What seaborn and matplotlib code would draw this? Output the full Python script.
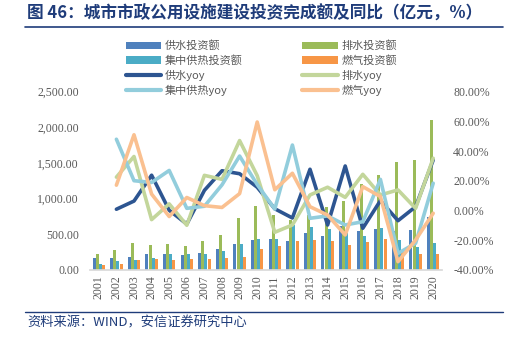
import numpy as np
import pandas as pd
import matplotlib
matplotlib.use("Agg")
import matplotlib.pyplot as plt
import seaborn as sns
from matplotlib.patches import Patch
from matplotlib.lines import Line2D
from matplotlib.ticker import FuncFormatter, FixedLocator

years = [str(y) for y in range(2001, 2021)]

# investment (亿元)
water = [169.4, 170.9, 181.8, 225.1, 225.6, 205.1, 233.0, 295.4, 368.8, 426.8,
         431.8, 410.4, 524.5, 475.0, 617.0, 545.8, 580.1, 543.0, 560.1, 749.4]
drain = [224.5, 275.0, 375.2, 352.3, 368.0, 331.5, 410.0, 496.0, 729.8, 901.6,
         770.1, 695.0, 768.0, 889.0, 970.0, 1206.0, 1333.0, 1518.0, 1545.0, 2100.0]
heat = [82.0, 121.4, 145.8, 173.4, 220.2, 223.6, 230.0, 269.7, 368.7, 433.2,
        437.6, 630.0, 598.0, 576.0, 522.0, 482.0, 582.0, 414.0, 323.0, 380.0]
gas = [75.5, 88.4, 133.5, 148.3, 142.4, 155.0, 160.1, 163.5, 182.2, 290.8,
       331.4, 413.0, 424.0, 411.0, 344.0, 398.0, 435.0, 287.0, 230.0, 226.0]

# yoy (%)
water_yoy = [np.nan, 0.9, 6.4, 23.8, 0.2, -9.1, 13.6, 26.8, 24.8, 15.7, 1.2,
             -5.0, 27.8, -9.7, 30.0, -11.9, 6.7, -6.8, 2.6, 34.0]
drain_yoy = [np.nan, 22.5, 36.4, -6.1, 4.5, -9.9, 23.7, 21.0, 47.1, 23.5, -14.6,
             -9.7, 10.5, 15.7, 8.9, 24.4, 10.5, 13.9, 1.5, 35.2]
heat_yoy = [np.nan, 48.0, 20.1, 18.9, 27.0, 1.5, 2.9, 17.3, 36.7, 17.5, 1.0,
            44.1, -5.2, -3.6, -9.7, -7.5, 21.0, -28.8, -22.0, 18.4]
gas_yoy = [np.nan, 17.1, 51.0, 11.1, -4.0, 8.8, 3.3, 2.1, 11.4, 59.6, 14.0,
           25.1, 2.6, -3.0, -16.4, 16.1, 9.4, -34.4, -19.8, -1.8]

bar_names = ["供水投资额", "排水投资额", "集中供热投资额", "燃气投资额"]
bar_colors = ["#4F81BD", "#9BBB59", "#4BACC6", "#F79646"]
line_names = ["供水yoy", "排水yoy", "集中供热yoy", "燃气yoy"]
line_colors = ["#2D5591", "#C3D69B", "#92CDDC", "#FAC090"]

title = "图 46：城市市政公用设施建设投资完成额及同比（亿元，%）"
source = "资料来源：WIND，安信证券研究中心"

sns.set_theme(style="white")
plt.rcParams['font.family'] = ['Noto Sans CJK SC', 'DejaVu Sans']

W, H = 508, 338
fig = plt.figure(figsize=(W / 100, H / 100), dpi=100)
ax = fig.add_axes([90 / W, 1 - 270 / H, 352 / W, 178.3 / H])

df_bar = pd.DataFrame({"year": years, bar_names[0]: water, bar_names[1]: drain,
                       bar_names[2]: heat, bar_names[3]: gas})
df_bar = df_bar.melt(id_vars="year", var_name="series", value_name="value")
sns.barplot(data=df_bar, x="year", y="value", hue="series", hue_order=bar_names,
            palette=bar_colors, width=0.7, gap=0.02, saturation=1,
            errorbar=None, legend=False, linewidth=0, ax=ax)

ax2 = ax.twinx()
df_line = pd.DataFrame({"pos": np.arange(len(years)), line_names[0]: water_yoy,
                        line_names[1]: drain_yoy, line_names[2]: heat_yoy,
                        line_names[3]: gas_yoy})
df_line = df_line.melt(id_vars="pos", var_name="series", value_name="value")
sns.lineplot(data=df_line, x="pos", y="value", hue="series", hue_order=line_names,
             palette=line_colors, linewidth=2.6, legend=False, ax=ax2)

ax.set_xlim(-0.5, len(years) - 0.5)
ax2.set_xlim(-0.5, len(years) - 0.5)
ax.set_ylim(0, 2500)
ax2.set_ylim(-40, 80)

tick_font = dict(family="Liberation Serif", size=8.5)
tick_color = "#595959"

ax.yaxis.set_major_locator(FixedLocator([0, 500, 1000, 1500, 2000, 2500]))
ax.yaxis.set_major_formatter(FuncFormatter(lambda v, p: f"{v:,.2f}"))
ax2.yaxis.set_major_locator(FixedLocator([-40, -20, 0, 20, 40, 60, 80]))
ax2.yaxis.set_major_formatter(FuncFormatter(lambda v, p: f"{v:.2f}%"))

ax.set_xticks(range(len(years)))
ax.set_xticklabels(years, rotation=90)
ax.set_xticks(np.arange(-0.5, len(years)), minor=True)
ax.tick_params(axis="x", which="major", length=0, pad=4, colors=tick_color)
ax.tick_params(axis="x", which="minor", length=4, width=0.8, color="#D9D9D9",
               direction="out")
ax.tick_params(axis="y", length=0, pad=8, colors=tick_color)
ax2.tick_params(axis="y", length=0, pad=8, colors=tick_color)
for lab in ax.get_xticklabels() + ax.get_yticklabels() + ax2.get_yticklabels():
    lab.set_fontfamily(tick_font["family"])
    lab.set_fontsize(tick_font["size"])

ax.set_xlabel("")
ax.set_ylabel("")
ax2.set_xlabel("")
ax2.set_ylabel("")
for a in (ax, ax2):
    for s in ("left", "right", "top"):
        a.spines[s].set_visible(False)
    a.spines["bottom"].set_color("#D9D9D9")
    a.grid(False)
ax2.spines["bottom"].set_visible(False)

# legend
handles = [Patch(facecolor=c, edgecolor="none") for c in bar_colors] + \
          [Line2D([0], [0], color=c, lw=3, solid_capstyle="round") for c in line_colors]
labels = bar_names + line_names
order = [0, 2, 4, 6, 1, 3, 5, 7]
leg = fig.legend([handles[i] for i in order], [labels[i] for i in order],
                 ncol=2, loc="upper left", bbox_to_anchor=(120 / W, 1 - 35 / H),
                 frameon=False, fontsize=8, handlelength=3.2, handleheight=0.6,
                 handletextpad=0.3, columnspacing=5.4, labelspacing=0.35,
                 borderpad=0, labelcolor="#595959")

title_color = "#1F3C7A"
fig.text(27 / W, 1 - 14 / H, title, fontsize=12, fontweight="bold",
         color=title_color, va="center", ha="left")
fig.add_artist(Line2D([25 / W, 503 / W], [1 - 27 / H, 1 - 27 / H],
                      color=title_color, lw=1.2))
fig.add_artist(Line2D([25 / W, 503 / W], [1 - 312 / H, 1 - 312 / H],
                      color=title_color, lw=1.0))
fig.text(27 / W, 1 - 323 / H, source, fontsize=9.5, style="italic",
         color=title_color, va="center", ha="left")

fig.savefig("out.png", dpi=100)
